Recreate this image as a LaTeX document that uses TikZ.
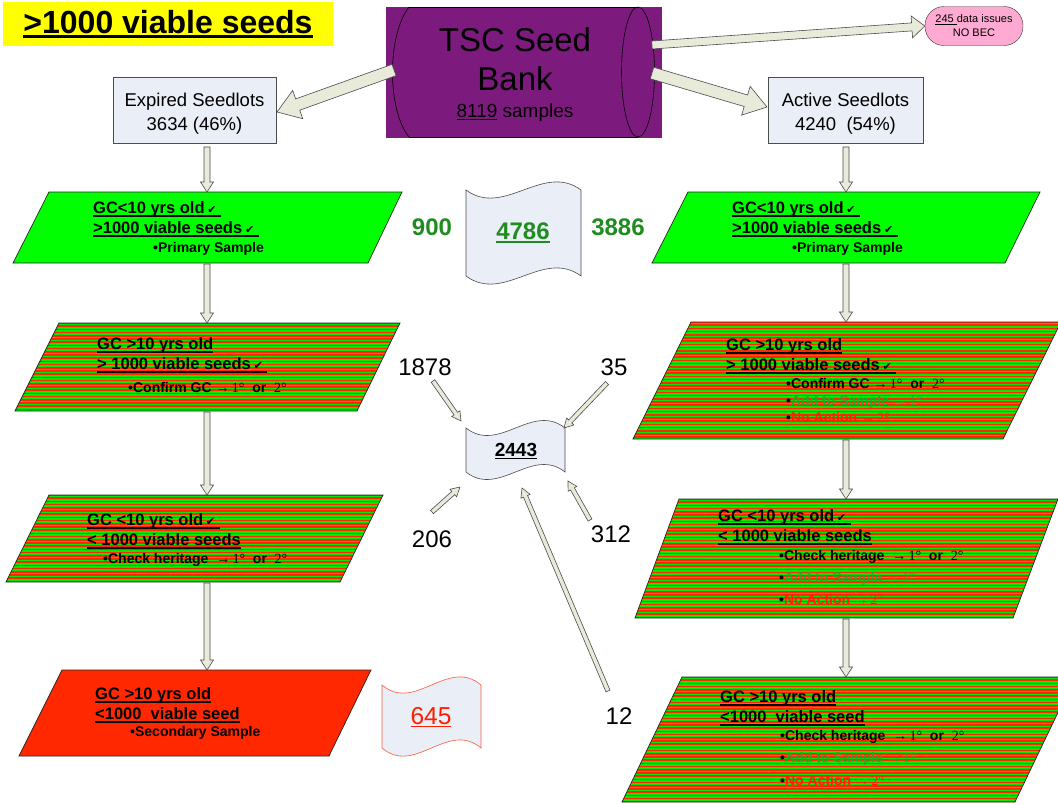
\documentclass[tikz,border=0pt]{standalone}
\usepackage{fontspec}
\setmainfont{Liberation Sans}
\newfontfamily\serf{Liberation Serif}
\newfontfamily\djv{DejaVu Sans}
\usetikzlibrary{calc}
\definecolor{tscpurple}{RGB}{125,26,125}
\definecolor{docfill}{RGB}{234,238,247}
\definecolor{arrfill}{RGB}{232,234,218}
\definecolor{brightgreen}{RGB}{0,255,0}
\definecolor{stripegreen}{RGB}{0,235,0}
\definecolor{stripered}{RGB}{255,40,0}
\definecolor{redfill}{RGB}{255,40,0}
\definecolor{numgreen}{RGB}{30,140,30}
\definecolor{addgreen}{RGB}{40,165,40}
\definecolor{noact}{RGB}{255,30,0}
\definecolor{pinkfill}{RGB}{255,170,210}
\definecolor{ttlyellow}{RGB}{255,255,0}
\definecolor{redline}{RGB}{255,90,60}
\newcommand\ck{\,\raisebox{-0.5pt}{\djv\fontsize{11}{11}\selectfont ✔}}
\newcommand\uln[3]{\leavevmode\setbox0\hbox{#3}\rlap{\rule[-#1]{\wd0}{#2}}\box0\relax}
\newcommand\onetwo{{\serf\mdseries →\,1°}\ \ or\ \ {\serf\mdseries 2°}}
\newcommand\adds{{\color{addgreen}Add to Sample {\serf\mdseries →\,1°}}}
\newcommand\noac{{\color{noact}No Action {\serf\mdseries →\,2°}}}
\newcommand\blockarr[5]{%
  \path[barrow] let \p1=(#1), \p2=(#2), \n1={atan2(\y2-\y1,\x2-\x1)}, \n2={veclen(\x2-\x1,\y2-\y1)} in
  [shift={(\p1)}, rotate=\n1] (0,#3) -- ({\n2-#5},#3) -- ({\n2-#5},#4) -- (\n2,0) -- ({\n2-#5},-#4) -- ({\n2-#5},-#3) -- (0,-#3) -- cycle;}
\newcommand\striped[5]{%
  \begin{scope}
    \clip #1--#2--#3--#4--cycle;
    \fill[stripegreen] #1--#2--#3--#4--cycle;
    \foreach \i in {0,...,42} \draw[stripered, line width=1.6pt] (0,{#5+3.2*\i}) -- (1100,{#5+3.2*\i});
  \end{scope}
  \draw[outl] #1--#2--#3--#4--cycle;}
\begin{document}
\begin{tikzpicture}[x=1pt,y=-1pt,
  outl/.style={draw=black!85, line width=0.7pt},
  barrow/.style={draw=black!70, fill=arrfill, line width=0.6pt, line join=miter},
  hdr/.style={anchor=base west, inner sep=0pt, font=\fontsize{16.5}{19}\selectfont\bfseries},
  bul/.style={anchor=base west, inner sep=0pt, font=\fontsize{14}{16}\selectfont\bfseries},
  bignum/.style={inner sep=0pt, font=\fontsize{24}{28}\selectfont},
  docshape/.style={draw=black!70, fill=docfill, line width=0.6pt},
  seedbox/.style={draw=black!70, fill=docfill, minimum height=66pt, inner sep=0pt},
  boxtxt/.style={anchor=base, inner sep=0pt, font=\fontsize{18.5}{22}\selectfont}]
\useasboundingbox (0,0) rectangle (1058,804);
\fill[white] (0,0) rectangle (1058,804);

% title
\node[fill=ttlyellow, minimum width=330pt, minimum height=44pt, inner sep=0pt,
      font=\fontsize{32}{36}\selectfont\bfseries] (title) at (168,24) {\uln{4.5pt}{3pt}{>1000 viable seeds}};

% TSC seed bank cylinder
\fill[tscpurple] (386,7) rectangle (662,138);
\draw[line width=0.6pt] (409,7) -- (638,7);
\draw[line width=0.6pt] (409,137) -- (638,137);
\draw[line width=0.6pt] (409,7) .. controls (387,35) and (387,110) .. (409,137);
\draw[line width=0.6pt] (638,72) ellipse [x radius=16.5pt, y radius=65pt];
\node[anchor=base, inner sep=0pt, font=\fontsize{33}{36}\selectfont] (tsc1) at (515,51) {TSC Seed};
\node[anchor=base, inner sep=0pt, font=\fontsize{33}{36}\selectfont] (tsc2) at (515,90) {Bank};
\node[anchor=base, inner sep=0pt, font=\fontsize{19}{22}\selectfont] (tsc3) at (515,117) {\uln{3pt}{1.2pt}{8119} samples};

% data issues
\node[draw=black!80, fill=pinkfill, rounded corners=19pt, minimum width=98pt, minimum height=39pt,
      inner sep=0pt, align=center, font=\fontsize{11}{14}\selectfont] (data) at (974,26)
      {\uln{2pt}{0.8pt}{245 }data issues\\NO BEC};

% seedlot boxes
\node[seedbox, minimum width=163pt] (exp) at (194.5,110) {};
\node[boxtxt] (exp1) at (194.5,106) {Expired Seedlots};
\node[boxtxt] (exp2) at (194.5,130) {3634 (46\%)};
\node[seedbox, minimum width=155pt] (act) at (845.5,110) {};
\node[boxtxt] (act1) at (845.5,106) {Active Seedlots};
\node[boxtxt] (act2) at (845.5,130) {4240~~(54\%)};

% big arrows from TSC
\coordinate (tscL) at (394,70);
\coordinate (tscR) at (652,73);
\coordinate (tscT) at (652,45);
\coordinate (expTip) at (277,112);
\coordinate (actTip) at (767,107);
\blockarr{tscL}{expTip}{6}{15}{22}
\blockarr{tscR}{actTip}{6}{15}{22}
\blockarr{tscT}{data.west}{4}{11}{13}

% left column
\fill[brightgreen] (49,192) -- (402,192) -- (368,263) -- (13,263) -- cycle;
\draw[outl] (49,192) -- (402,192) -- (368,263) -- (13,263) -- cycle;
\striped{(59,323)}{(400,323)}{(357,411)}{(15,411)}{323}
\striped{(49,495)}{(383,495)}{(340,582)}{(6,582)}{495}
\fill[redfill] (62,670) -- (371,670) -- (329,756) -- (19,756) -- cycle;
\draw[outl] (62,670) -- (371,670) -- (329,756) -- (19,756) -- cycle;

% right column
\fill[brightgreen] (688,192) -- (1040,192) -- (1005,263) -- (652,263) -- cycle;
\draw[outl] (688,192) -- (1040,192) -- (1005,263) -- (652,263) -- cycle;
\striped{(691,322)}{(1061,322)}{(1003,439)}{(633,439)}{322}
\striped{(679,499)}{(1058,499)}{(1013,618)}{(635,618)}{499}
\striped{(682,677)}{(1075,677)}{(1015,802)}{(622,802)}{677}

% down arrows
\coordinate (L0b) at (207,147); \coordinate (L1t) at (207,192);
\coordinate (L1b) at (207,264); \coordinate (L2t) at (207,323);
\coordinate (L2b) at (207,412); \coordinate (L3t) at (207,495);
\coordinate (L3b) at (207,583); \coordinate (L4t) at (207,670);
\coordinate (R0b) at (846,147); \coordinate (R1t) at (846,192);
\coordinate (R1b) at (846,264); \coordinate (R2t) at (846,322);
\coordinate (R2b) at (846,440); \coordinate (R3t) at (846,499);
\coordinate (R3b) at (846,619); \coordinate (R4t) at (846,677);
\blockarr{L0b}{L1t}{3}{6.5}{10}
\blockarr{L1b}{L2t}{3}{6.5}{10}
\blockarr{L2b}{L3t}{3}{6.5}{10}
\blockarr{L3b}{L4t}{3}{6.5}{10}
\blockarr{R0b}{R1t}{3}{6.5}{10}
\blockarr{R1b}{R2t}{3}{6.5}{10}
\blockarr{R2b}{R3t}{3}{6.5}{10}
\blockarr{R3b}{R4t}{3}{6.5}{10}

% texts left
\node[hdr] (l1a) at (93,213) {\uln{3.5pt}{1.5pt}{GC<10 yrs old\ck\ }};
\node[hdr] (l1b) at (93,233) {\uln{3.5pt}{1.5pt}{>1000 viable seeds\ck\ }};
\node[bul] (l1c) at (153,252) {•Primary Sample};
\node[hdr] (l2a) at (97,349) {\uln{3.5pt}{1.5pt}{GC >10 yrs old}};
\node[hdr] (l2b) at (97,369) {\uln{3.5pt}{1.5pt}{> 1000 viable seeds\ck\ }};
\node[bul] (l2c) at (128,392) {•Confirm GC \onetwo};
\node[hdr] (l3a) at (87,525) {\uln{3.5pt}{1.5pt}{GC <10 yrs old\ck\ }};
\node[hdr] (l3b) at (87,545) {\uln{3.5pt}{1.5pt}{< 1000 viable seeds}};
\node[bul] (l3c) at (103,563) {•Check heritage\ \ \onetwo};
\node[hdr] (l4a) at (95,699) {\uln{3.5pt}{1.5pt}{GC >10 yrs old}};
\node[hdr] (l4b) at (95,719) {\uln{3.5pt}{1.5pt}{<1000~ viable seed}};
\node[bul] (l4c) at (130,736) {•Secondary Sample};

% texts right
\node[hdr] (r1a) at (732,213) {\uln{3.5pt}{1.5pt}{GC<10 yrs old\ck\ }};
\node[hdr] (r1b) at (732,233) {\uln{3.5pt}{1.5pt}{>1000 viable seeds\ck\ }};
\node[bul] (r1c) at (792,252) {•Primary Sample};
\node[hdr] (r2a) at (726,350) {\uln{3.5pt}{1.5pt}{GC >10 yrs old}};
\node[hdr] (r2b) at (726,370) {\uln{3.5pt}{1.5pt}{> 1000 viable seeds\ck\ }};
\node[bul] (r2c) at (786,388) {•Confirm GC \onetwo};
\node[bul] (r2d) at (786,405) {•\adds};
\node[bul] (r2e) at (786,422) {•\noac};
\node[hdr] (r3a) at (718,521) {\uln{3.5pt}{1.5pt}{GC <10 yrs old\ck\ }};
\node[hdr] (r3b) at (718,541) {\uln{3.5pt}{1.5pt}{< 1000 viable seeds}};
\node[bul] (r3c) at (779,560) {•Check heritage\ \ \onetwo};
\node[bul] (r3d) at (779,582) {•\adds};
\node[bul] (r3e) at (779,604) {•\noac};
\node[hdr] (r4a) at (720,702) {\uln{3.5pt}{1.5pt}{GC >10 yrs old}};
\node[hdr] (r4b) at (720,722) {\uln{3.5pt}{1.5pt}{<1000~ viable seed}};
\node[bul] (r4c) at (780,740) {•Check heritage\ \ \onetwo};
\node[bul] (r4d) at (780,762) {•\adds};
\node[bul] (r4e) at (780,785) {•\noac};

% documents
\draw[docshape] (466,190) .. controls +(38,28) and +(-38,-28) .. (581,190) -- (581,276)
  .. controls +(-38,-28) and +(38,28) .. (466,276) -- cycle;
\node[inner sep=0pt, text=numgreen, font=\fontsize{24}{28}\selectfont\bfseries] (d4786) at (523,233) {\uln{3pt}{1.5pt}{4786}};
\draw[docshape] (466,428) .. controls +(33,26) and +(-33,-26) .. (565,428) -- (565,472)
  .. controls +(-33,-26) and +(33,26) .. (466,472) -- cycle;
\node[inner sep=0pt, font=\fontsize{19}{22}\selectfont\bfseries] (d2443) at (516,451) {\uln{3pt}{1.5pt}{2443}};
\draw[docshape, draw=redline] (382,685) .. controls +(33,28) and +(-33,-28) .. (481,685) -- (481,748)
  .. controls +(-33,-28) and +(33,28) .. (382,748) -- cycle;
\node[inner sep=0pt, text=noact, font=\fontsize{24.5}{28}\selectfont] (d645) at (431,717) {\uln{3pt}{1.2pt}{645}};

% numbers
\node[bignum, text=numgreen, font=\fontsize{24}{28}\selectfont\bfseries] (n900) at (432,227) {900};
\node[bignum, text=numgreen, font=\fontsize{24}{28}\selectfont\bfseries] (n3886) at (618,227) {3886};
\node[bignum] (n1878) at (425,367) {1878};
\node[bignum] (n35) at (614,367) {35};
\node[bignum] (n206) at (432,539) {206};
\node[bignum] (n312) at (611,534) {312};
\node[bignum] (n12) at (619,716) {12};

% thin arrows to 2443
\coordinate (t1878) at (433,381); \coordinate (h1878) at (461,421);
\coordinate (t35) at (607,383);   \coordinate (h35) at (564,428);
\coordinate (t206) at (432,512);  \coordinate (h206) at (460,487);
\coordinate (t312) at (590,520);  \coordinate (h312) at (568,481);
\coordinate (t12) at (608,691);   \coordinate (h12) at (522,488);
\blockarr{t1878}{h1878}{2.2}{5}{9}
\blockarr{t35}{h35}{2.2}{5}{9}
\blockarr{t206}{h206}{2.2}{5}{9}
\blockarr{t312}{h312}{2.2}{5}{9}
\blockarr{t12}{h12}{2.2}{5}{9}
\end{tikzpicture}
\end{document}
